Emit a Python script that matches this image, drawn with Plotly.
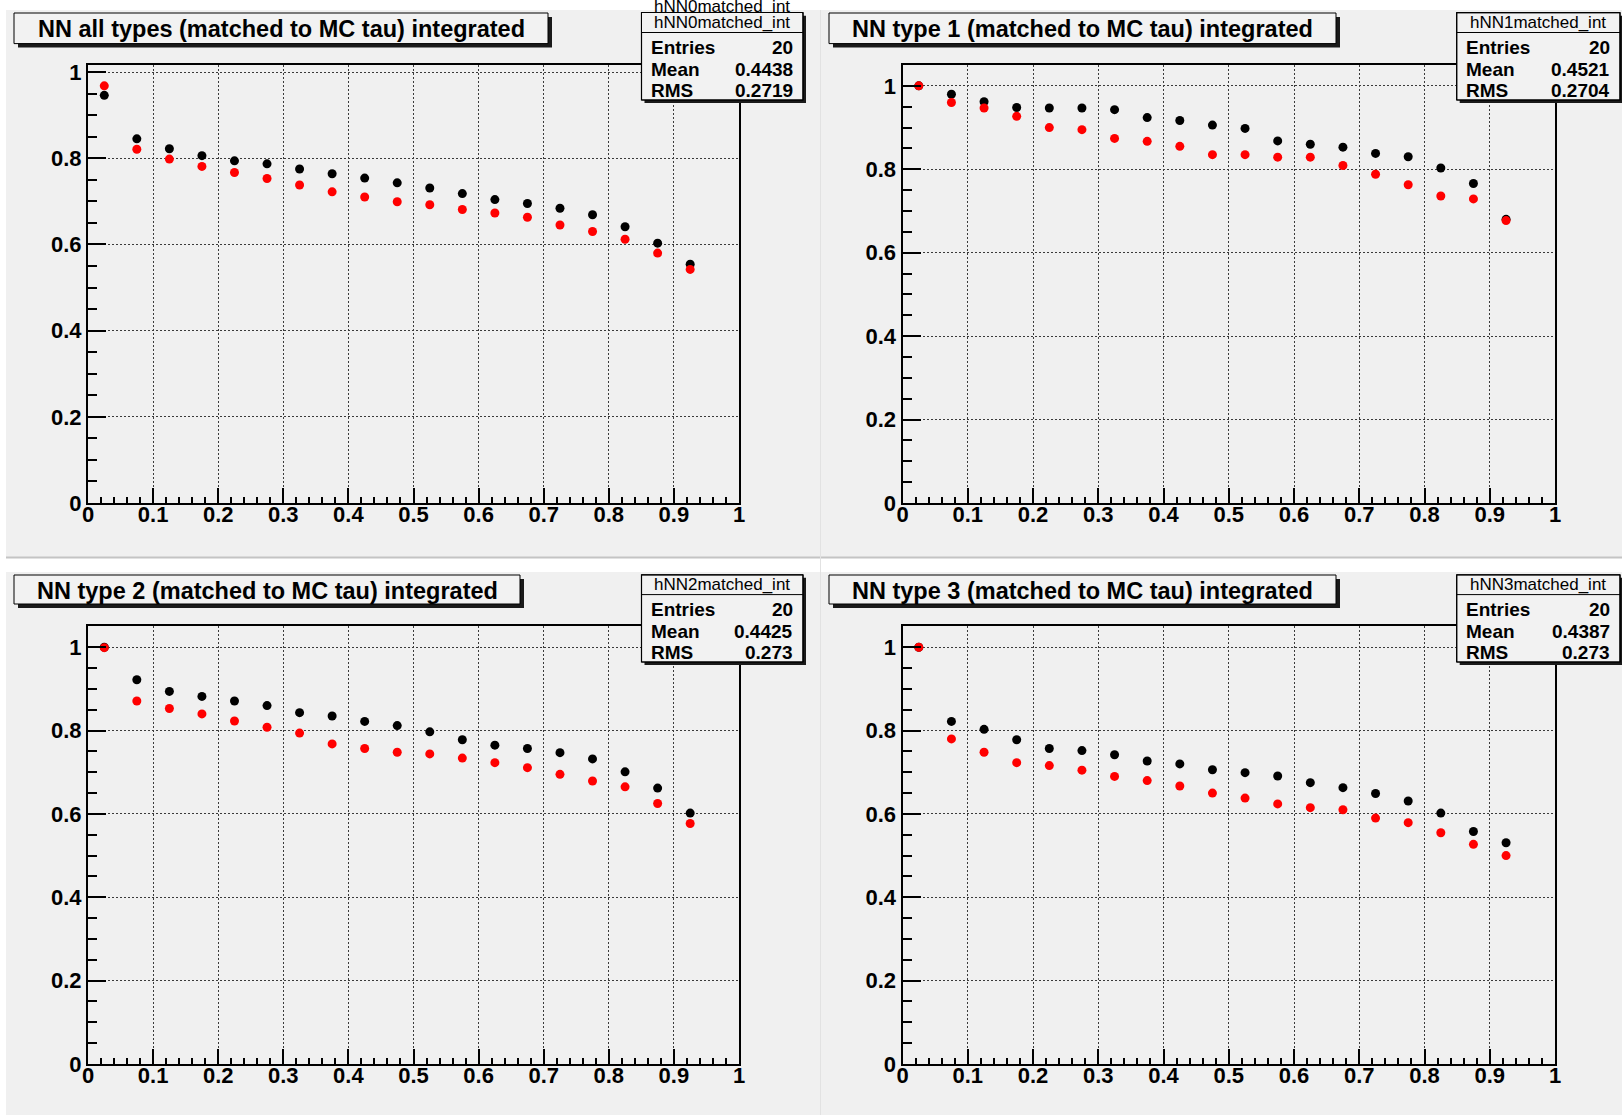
import plotly.graph_objects as go

W, H = 1622, 1115
FONT = "Liberation Sans"
PAD_GRAY = "#f0f0f0"

# bin centres of the 20-bin NN-output histograms (last bin empty)
bin_centers = [0.025, 0.075, 0.125, 0.175, 0.225, 0.275, 0.325, 0.375, 0.425, 0.475,
               0.525, 0.575, 0.625, 0.675, 0.725, 0.775, 0.825, 0.875, 0.925]

x_tick_vals = [0, 0.1, 0.2, 0.3, 0.4, 0.5, 0.6, 0.7, 0.8, 0.9, 1]
x_tick_text = ["0", "0.1", "0.2", "0.3", "0.4", "0.5", "0.6", "0.7", "0.8", "0.9", "1"]
y_tick_vals = [0, 0.2, 0.4, 0.6, 0.8, 1]
y_tick_text = ["0", "0.2", "0.4", "0.6", "0.8", "1"]

titles = ["NN all types (matched to MC tau) integrated",
          "NN type 1 (matched to MC tau) integrated",
          "NN type 2 (matched to MC tau) integrated",
          "NN type 3 (matched to MC tau) integrated"]
hist_names = ["hNN0matched_int", "hNN1matched_int", "hNN2matched_int", "hNN3matched_int"]
entries = ["20", "20", "20", "20"]
means = ["0.4438", "0.4521", "0.4425", "0.4387"]
rms_values = ["0.2719", "0.2704", "0.273", "0.273"]

nn0_black = [0.946, 0.845, 0.822, 0.806, 0.794, 0.787, 0.775, 0.764, 0.754, 0.743,
             0.731, 0.718, 0.704, 0.695, 0.684, 0.669, 0.641, 0.603, 0.554]
nn0_red = [0.968, 0.821, 0.798, 0.781, 0.767, 0.753, 0.738, 0.722, 0.710, 0.699,
           0.692, 0.681, 0.673, 0.663, 0.645, 0.630, 0.612, 0.580, 0.542]

nn1_black = [1.000, 0.980, 0.962, 0.948, 0.947, 0.947, 0.943, 0.924, 0.917, 0.906,
             0.898, 0.868, 0.860, 0.853, 0.838, 0.830, 0.803, 0.766, 0.680]
nn1_red = [1.000, 0.960, 0.947, 0.927, 0.900, 0.895, 0.874, 0.867, 0.855, 0.835,
           0.835, 0.829, 0.829, 0.809, 0.788, 0.763, 0.736, 0.729, 0.677]

nn2_black = [1.000, 0.922, 0.894, 0.882, 0.871, 0.860, 0.843, 0.835, 0.822, 0.812,
             0.797, 0.778, 0.765, 0.757, 0.747, 0.732, 0.701, 0.662, 0.602]
nn2_red = [0.999, 0.871, 0.853, 0.840, 0.823, 0.808, 0.794, 0.768, 0.757, 0.748,
           0.744, 0.734, 0.723, 0.711, 0.695, 0.679, 0.665, 0.625, 0.577]

nn3_black = [1.000, 0.822, 0.803, 0.778, 0.757, 0.752, 0.742, 0.727, 0.720, 0.706,
             0.699, 0.691, 0.675, 0.663, 0.649, 0.631, 0.602, 0.558, 0.531]
nn3_red = [1.000, 0.780, 0.748, 0.723, 0.716, 0.705, 0.690, 0.680, 0.667, 0.650,
           0.638, 0.624, 0.615, 0.610, 0.590, 0.579, 0.555, 0.527, 0.500]

black_series = [nn0_black, nn1_black, nn2_black, nn3_black]
red_series = [nn0_red, nn1_red, nn2_red, nn3_red]

# pixel geometry of each pad: frame (x0, x1, y0, y1), pad, title box, stats box
layout_px = [
    dict(frame=(88, 739, 65, 503), pad=(6, 820, 10, 557),
         tbox=(14, 548, 13, 43.6), sbox=(641.5, 803, 12.7, 100)),
    dict(frame=(902.5, 1555, 65, 503), pad=(821, 1622, 10, 557),
         tbox=(829, 1336, 13, 43.6), sbox=(1456.7, 1620, 12.7, 100)),
    dict(frame=(88, 739, 626.4, 1064), pad=(6, 820, 572, 1115),
         tbox=(14, 520, 575, 604), sbox=(641.5, 803, 574.8, 662)),
    dict(frame=(902.5, 1555, 626.4, 1064), pad=(821, 1622, 572, 1115),
         tbox=(829, 1336, 575, 604), sbox=(1456.7, 1620, 574.8, 662)),
]


def fx(px):
    return px / W


def fy(py):
    return 1 - py / H


fig = go.Figure()
shapes = []
annotations = []


def rect(x0, x1, y0, y1, fill, line_color=None, line_width=0, layer="above"):
    shapes.append(dict(type="rect", xref="paper", yref="paper",
                       x0=fx(x0), x1=fx(x1), y0=fy(y1), y1=fy(y0),
                       fillcolor=fill, layer=layer,
                       line=dict(color=line_color or fill, width=line_width)))


def text(x, y, s, size, bold, xanchor="center", yanchor="middle"):
    annotations.append(dict(xref="paper", yref="paper", x=fx(x), y=fy(y), text=s,
                            showarrow=False, xanchor=xanchor, yanchor=yanchor,
                            font=dict(family=FONT, size=size, color="black",
                                      weight="bold" if bold else "normal")))


axis_common = dict(showline=True, linecolor="black", linewidth=2, mirror=True,
                   ticks="inside", tickcolor="black", tickwidth=2,
                   showgrid=True, gridcolor="#3a3a3a", gridwidth=1, griddash="2px,2px",
                   zeroline=False, fixedrange=True, automargin=False,
                   tickfont=dict(family=FONT, size=22, color="black", weight="bold"))

for i, geo in enumerate(layout_px):
    n = "" if i == 0 else str(i + 1)
    xa, ya = "x" + n, "y" + n
    fx0, fx1, fy0, fy1 = geo["frame"]
    ymax = 1.05 * max(black_series[i] + red_series[i])

    fig.add_trace(go.Scatter(x=bin_centers, y=black_series[i], mode="markers",
                             marker=dict(color="black", size=9),
                             xaxis=xa, yaxis=ya, showlegend=False, hoverinfo="skip"))
    fig.add_trace(go.Scatter(x=bin_centers, y=red_series[i], mode="markers",
                             marker=dict(color="#ff0000", size=9),
                             xaxis=xa, yaxis=ya, showlegend=False, hoverinfo="skip"))

    fig.layout["xaxis" + n] = dict(axis_common, domain=[fx(fx0), fx(fx1)], anchor=ya,
                                   range=[0, 1], tickmode="array", tickvals=x_tick_vals,
                                   ticktext=x_tick_text, ticklen=15, ticklabelstandoff=-9,
                                   minor=dict(tickmode="linear", tick0=0, dtick=0.02,
                                              ticks="inside", ticklen=6, tickwidth=2,
                                              tickcolor="black", showgrid=False))
    fig.layout["yaxis" + n] = dict(axis_common, domain=[fy(fy1), fy(fy0)], anchor=xa,
                                   range=[0, ymax], tickmode="array", tickvals=y_tick_vals,
                                   ticktext=y_tick_text, ticklen=18,
                                   minor=dict(tickmode="linear", tick0=0, dtick=0.05,
                                              ticks="inside", ticklen=9, tickwidth=2,
                                              tickcolor="black", showgrid=False))

    # pad background
    px0, px1, py0, py1 = geo["pad"]
    rect(px0, px1, py0, py1, PAD_GRAY, layer="below")

    # title box with drop shadow
    tx0, tx1, ty0, ty1 = geo["tbox"]
    rect(tx0 + 4, tx1 + 4, ty0 + 4, ty1 + 4, "#1a1a1a")
    rect(tx0, tx1, ty0, ty1, "#f2f2f2", "black", 1)
    text((tx0 + tx1) / 2, (ty0 + ty1) / 2 + 1, titles[i], 23.5, True)

    # statistics box
    sx0, sx1, sy0, sy1 = geo["sbox"]
    head = sy0 + 19.8
    rect(sx0 + 3, sx1 + 3, sy0 + 3, sy1 + 3, "#1a1a1a")
    rect(sx0, sx1, sy0, sy1, "#f2f2f2", "black", 1)
    if i == 0:
        # title of the stats box of the overlaid histogram, peeking out behind
        text((sx0 + sx1) / 2, sy0 - 6, hist_names[i], 17, False)
        annotations.append(dict(xref="paper", yref="paper", x=fx(sx0), y=fy(sy0),
                                xanchor="left", yanchor="top", text=" ", showarrow=False,
                                width=sx1 - sx0 - 2, height=head - sy0 - 1, borderpad=0,
                                bgcolor="#f2f2f2", borderwidth=0))
    shapes.append(dict(type="line", xref="paper", yref="paper", x0=fx(sx0), x1=fx(sx1),
                       y0=fy(head), y1=fy(head), line=dict(color="black", width=1)))
    shapes.append(dict(type="rect", xref="paper", yref="paper", x0=fx(sx0), x1=fx(sx1),
                       y0=fy(sy1), y1=fy(sy0), line=dict(color="black", width=1.2)))
    text((sx0 + sx1) / 2, sy0 + 10, hist_names[i], 17, False)
    rows = [("Entries", entries[i]), ("Mean", means[i]), ("RMS", rms_values[i])]
    for r, (lab, val) in enumerate(rows):
        yc = sy0 + 35 + 21.5 * r
        text(sx0 + 7, yc, lab, 19, True, xanchor="left")
        text(sx1 - 8, yc, val, 19, True, xanchor="right")

# pad separators
shapes.append(dict(type="line", xref="paper", yref="paper", x0=fx(6), x1=1,
                   y0=fy(557.5), y1=fy(557.5), line=dict(color="#c4c4c4", width=2),
                   layer="below"))
shapes.append(dict(type="line", xref="paper", yref="paper", x0=fx(820.5), x1=fx(820.5),
                   y0=0, y1=fy(10), line=dict(color="#e2e2e2", width=1), layer="below"))

fig.update_layout(width=W, height=H,
                  margin=dict(l=0, r=0, t=0, b=0, pad=0, autoexpand=False),
                  paper_bgcolor="white", plot_bgcolor=PAD_GRAY,
                  showlegend=False, hovermode=False,
                  shapes=shapes, annotations=annotations)

fig.write_html("out.html", config=dict(displayModeBar=False))
